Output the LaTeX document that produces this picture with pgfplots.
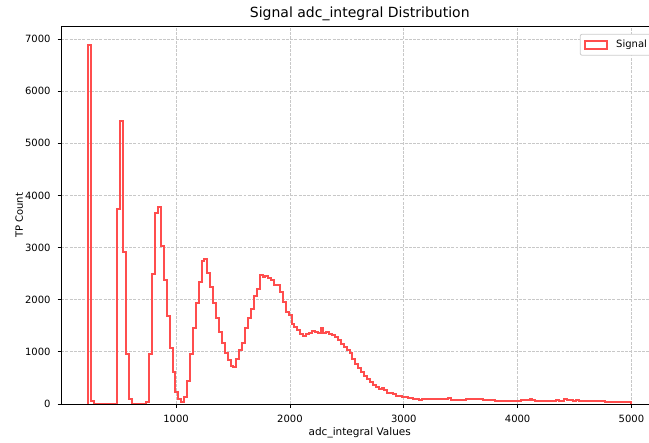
\documentclass[border=0pt]{standalone}
\usepackage{fontspec}
\setmainfont{DejaVu Sans}
\usepackage{pgfplots}
\pgfplotsset{compat=1.18}
\usepackage{pgfplotstable}
\definecolor{histred}{RGB}{255,77,77}
\definecolor{gridgray}{RGB}{200,200,200}
\definecolor{legendedge}{RGB}{204,204,204}

\pgfplotstableread{
x y
229 0
229 6890
254.5 60
280 0
305.5 0
331 0
356.5 0
382 0
407.5 0
433 0
458.5 0
484 3734
509.5 5422
535 2921
560.5 965
586 90
611.5 0
637 0
662.5 0
688 0
713.5 0
739 40
764.5 950
790 2493
815.5 3657
841 3784
866.5 3030
892 2380
917.5 1690
943 1068
968.5 608
994 230
1019.5 100
1045 40
1070.5 125
1096 450
1121.5 950
1147 1467
1172.5 1931
1198 2337
1223.5 2749
1249 2775
1274.5 2506
1300 2250
1325.5 1931
1351 1656
1376.5 1375
1402 1176
1427.5 972
1453 844
1478.5 725
1504 716
1529.5 857
1555 1036
1580.5 1170
1606 1465
1631.5 1655
1657 1825
1682.5 2065
1708 2200
1733.5 2474
1759 2440
1784.5 2455
1810 2415
1835.5 2385
1861 2285
1886.5 2280
1912 2140
1937.5 1955
1963 1755
1988.5 1707
2014 1530
2039.5 1483
2065 1410
2090.5 1350
2116 1310
2141.5 1340
2167 1360
2192.5 1395
2218 1380
2243.5 1370
2269 1464
2294.5 1370
2320 1380
2345.5 1350
2371 1330
2396.5 1290
2422 1235
2447.5 1150
2473 1090
2498.5 1030
2524 975
2549.5 865
2575 775
2600.5 695
2626 620
2651.5 537
2677 485
2702.5 418
2728 364
2753.5 325
2779 282
2804.5 300
2830 262
2855.5 217
2881 205
2906.5 186
2932 158
2957.5 145
2983 130
3008.5 125
3034 109
3059.5 115
3085 102
3110.5 100
3136 83
3161.5 96
3187 95
3212.5 102
3238 100
3263.5 102
3289 96
3314.5 95
3340 90
3365.5 88
3391 109
3416.5 83
3442 80
3467.5 77
3493 78
3518.5 76
3544 90
3569.5 88
3595 90
3620.5 89
3646 96
3671.5 95
3697 77
3722.5 76
3748 78
3773.5 75
3799 64
3824.5 66
3850 63
3875.5 65
3901 62
3926.5 64
3952 66
3977.5 64
4003 63
4028.5 77
4054 76
4079.5 78
4105 96
4130.5 77
4156 64
4181.5 63
4207 65
4232.5 58
4258 57
4283.5 59
4309 58
4334.5 77
4360 64
4385.5 66
4411 90
4436.5 70
4462 68
4487.5 64
4513 77
4538.5 58
4564 56
4589.5 51
4615 52
4640.5 50
4666 51
4691.5 49
4717 52
4742.5 50
4768 38
4793.5 37
4819 32
4844.5 33
4870 31
4895.5 32
4921 30
4946.5 33
4972 32
4997.5 32
4997.5 0
}\histdata

\begin{document}
\begin{tikzpicture}
\begin{axis}[
  at={(0,0)}, anchor=south west,
  scale only axis, width=597.1bp, height=377.2bp,
  xmin=-9.4, xmax=5235.9, ymin=0, ymax=7234.5,
  xtick={1000,2000,3000,4000,5000},
  ytick={0,1000,2000,3000,4000,5000,6000,7000},
  scaled ticks=false,
  /pgf/number format/1000 sep={},
  /pgf/number format/assume math mode=true,
  tick align=outside,
  xtick pos=left, ytick pos=left,
  major tick length=3.5bp,
  tick style={line width=0.8bp, black},
  axis line style={line width=0.8bp, black},
  grid=major,
  grid style={gridgray, line width=0.8bp, dash pattern=on 2.96bp off 1.28bp},
  tick label style={font=\fontsize{10bp}{12bp}\selectfont},
  xticklabel style={anchor=north, inner sep=0pt, yshift=-7bp},
  yticklabel style={anchor=east, inner sep=0pt, xshift=-7bp},
  title={Signal adc\_integral Distribution},
  title style={at={(axis description cs:0.5,1)}, anchor=base, inner sep=0pt, yshift=3bp, font=\fontsize{14bp}{17bp}\selectfont},
  xlabel={adc\_integral Values},
  xlabel style={at={(axis description cs:0.5,-0.061)}, anchor=north, inner sep=0pt, font=\fontsize{10.5bp}{12.5bp}\selectfont},
  ylabel={TP Count},
  ylabel style={at={(axis description cs:-0.0637,0.5)}, anchor=south, rotate=0, inner sep=0pt, font=\fontsize{10bp}{12bp}\selectfont},
  legend style={at={(axis description cs:1,1)}, anchor=north east, xshift=-5bp, yshift=-7bp,
    draw=legendedge, line width=0.8bp, rounded corners=2bp, fill=white,
    font=\fontsize{10bp}{12bp}\selectfont, inner xsep=4bp, inner ysep=4bp,
    /tikz/every odd column/.append style={column sep=6bp}},
  legend image code/.code={\draw[#1, sharp corners, fill=none] (0bp,-4bp) rectangle (22bp,4bp);},
]
\addplot[const plot, histred, line width=2bp, line join=miter, mark=none] table[x=x, y=y] {\histdata};
\addlegendentry{Signal}
\end{axis}
\pgfresetboundingbox
\path[use as bounding box] (-61.2bp,-39bp) rectangle (587.8bp,404bp);
\end{tikzpicture}
\end{document}
